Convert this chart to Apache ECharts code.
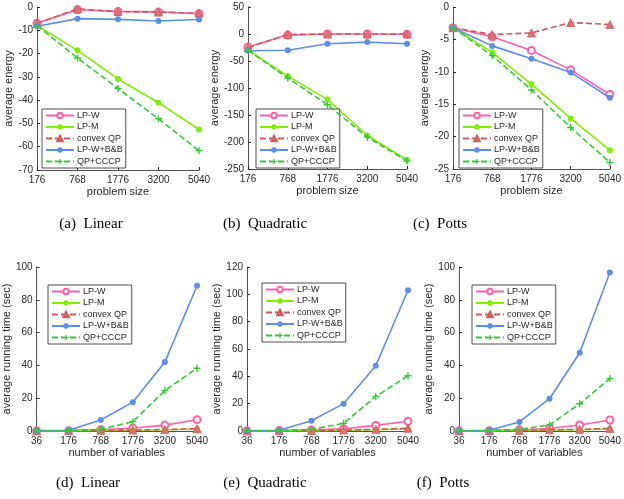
<!DOCTYPE html>
<html><head><meta charset="utf-8">
<script src="https://cdn.jsdelivr.net/npm/echarts@6/dist/echarts.min.js"></script>
<style>html,body{margin:0;padding:0;background:#fff}#c{width:624px;height:499px}</style>
</head><body><div id="c"></div>
<script>
const seriesNames = ['LP-W','LP-M','convex QP','LP-W+B&B','QP+CCCP'];
const sizeCats = ['176','768','1776','3200','5040'];
const varCats = ['36','176','768','1776','3200','5040'];

// (a) Linear - energy
const linE_LPW  = [-7, -1.2, -1.9, -2.1, -2.9];
const linE_LPM  = [-7.9, -18.6, -30.9, -41.1, -52.6];
const linE_CQP  = [-7, -0.8, -2.0, -2.2, -2.6];
const linE_BB   = [-8.3, -5.0, -5.3, -6.0, -5.4];
const linE_CCCP = [-8, -21.9, -35, -48, -61.7];
// (b) Quadratic - energy
const quaE_LPW  = [-24, -2, 0, 0, -0.5];
const quaE_LPM  = [-30, -78, -121, -188, -233];
const quaE_CQP  = [-25, -1, 0, 0, 0];
const quaE_BB   = [-31, -30, -18, -15, -18];
const quaE_CCCP = [-30, -81.5, -131, -191, -235];
// (c) Potts - energy
const potE_LPW  = [-3.2, -4.6, -6.7, -9.7, -13.5];
const potE_LPM  = [-3.2, -7.0, -11.9, -17.2, -22.1];
const potE_CQP  = [-3.2, -4.25, -4.0, -2.4, -2.7];
const potE_BB   = [-3.2, -6.0, -8.0, -10.1, -14.0];
const potE_CCCP = [-3.2, -7.5, -12.8, -18.6, -24.0];
// (d) Linear - time
const linT_LPW  = [0.1, 0.2, 0.8, 1.8, 3.6, 6.9];
const linT_LPM  = [0.05, 0.1, 0.3, 0.5, 0.8, 1.2];
const linT_CQP  = [0.1, 0.2, 0.4, 0.6, 0.9, 1.4];
const linT_BB   = [0.2, 0.5, 6.7, 17.6, 42, 88.6];
const linT_CCCP = [0, 0.2, 1.0, 5.7, 24.7, 38.3];
// (e) Quadratic - time
const quaT_LPW  = [0.1, 0.3, 0.8, 1.7, 4.1, 7.1];
const quaT_LPM  = [0.05, 0.1, 0.3, 0.5, 0.9, 1.5];
const quaT_CQP  = [0.1, 0.2, 0.4, 0.7, 1.2, 2.0];
const quaT_BB   = [0.1, 0.5, 7.5, 20, 47.7, 103];
const quaT_CCCP = [0, 0.2, 1.2, 5.6, 25.3, 40.4];
// (f) Potts - time
const potT_LPW  = [0.1, 0.2, 0.7, 1.5, 3.7, 6.7];
const potT_LPM  = [0.05, 0.1, 0.3, 0.5, 0.8, 1.2];
const potT_CQP  = [0.1, 0.2, 0.4, 0.7, 1.0, 1.6];
const potT_BB   = [0.1, 0.4, 5.5, 19.7, 47.7, 96.6];
const potT_CCCP = [0, 0.2, 1.0, 3.7, 16.6, 32.0];

const captions = ['(a)  Linear','(b)  Quadratic','(c)  Potts','(d)  Linear','(e)  Quadratic','(f)  Potts'];

const panels = [
  {cats: sizeCats, data:[linE_LPW,linE_LPM,linE_CQP,linE_BB,linE_CCCP], min:-70, max:0, interval:10, xname:'problem size', yname:'average energy',
   grid:{left:37, top:7, width:162, height:163}, nameGap:18, legend:{left:42, top:109}, cap:[91,224]},
  {cats: sizeCats, data:[quaE_LPW,quaE_LPM,quaE_CQP,quaE_BB,quaE_CCCP], min:-250, max:50, interval:50, xname:'problem size', yname:'average energy',
   grid:{left:248, top:7, width:159, height:162}, nameGap:22, legend:{left:256, top:109}, cap:[265,224]},
  {cats: sizeCats, data:[potE_LPW,potE_LPM,potE_CQP,potE_BB,potE_CCCP], min:-25, max:0, interval:5, xname:'problem size', yname:'average energy',
   grid:{left:453, top:7, width:161, height:162}, nameGap:22, legend:{left:459, top:109}, cap:[440,224]},
  {cats: varCats, data:[linT_LPW,linT_LPM,linT_CQP,linT_BB,linT_CCCP], min:0, max:100, interval:20, xname:'number of variables', yname:'average running time (sec)',
   grid:{left:36, top:267, width:161, height:164}, nameGap:22, legend:{left:48, top:285}, cap:[88,483]},
  {cats: varCats, data:[quaT_LPW,quaT_LPM,quaT_CQP,quaT_BB,quaT_CCCP], min:0, max:120, interval:20, xname:'number of variables', yname:'average running time (sec)',
   grid:{left:247, top:267, width:161, height:164}, nameGap:21, legend:{left:262, top:283}, cap:[265,483]},
  {cats: varCats, data:[potT_LPW,potT_LPM,potT_CQP,potT_BB,potT_CCCP], min:0, max:100, interval:20, xname:'number of variables', yname:'average running time (sec)',
   grid:{left:459, top:267, width:161, height:164}, nameGap:21, legend:{left:472, top:285}, cap:[443,483]}
];

const plusPath = 'path://M4 0 L6 0 L6 4 L10 4 L10 6 L6 6 L6 10 L4 10 L4 6 L0 6 L0 4 L4 4 Z';
const styles = [
  {color:'#ff5fa8', symbol:'emptyCircle', symbolSize:7, type:'solid', fill:'#ff5fa8'},
  {color:'#7ff000', symbol:'circle', symbolSize:6, type:'solid', fill:'#7ff000'},
  {color:'#d05a5a', symbol:'triangle', symbolSize:8, type:'dashed', fill:'#e07070'},
  {color:'#5b8ee8', symbol:'circle', symbolSize:6, type:'solid', fill:'#5b8ee8'},
  {color:'#33cc33', symbol:plusPath, symbolSize:7, type:'dashed', fill:'#33cc33'}
];

const txt = '#262626';
const option = {animation:false, backgroundColor:'#fff', grid:[], xAxis:[], yAxis:[], series:[], legend:[]};
panels.forEach((p, i) => {
  option.grid.push(Object.assign({containLabel:false}, p.grid));
  option.xAxis.push({type:'category', gridIndex:i, data:p.cats, boundaryGap:false,
    name:p.xname, nameLocation:'middle', nameGap:16, nameTextStyle:{fontFamily:'Liberation Sans', fontSize:11, color:txt},
    axisLine:{onZero:false, lineStyle:{color:txt, width:0.8}}, axisTick:{inside:true, length:3, lineStyle:{color:txt}},
    axisLabel:{fontFamily:'Liberation Sans', fontSize:10, color:txt, margin:5, interval:0}, splitLine:{show:false}});
  option.yAxis.push({type:'value', gridIndex:i, min:p.min, max:p.max, interval:p.interval,
    name:p.yname, nameLocation:'middle', nameGap:p.nameGap, nameTextStyle:{fontFamily:'Liberation Sans', fontSize:11, color:txt},
    axisLine:{show:true, onZero:false, lineStyle:{color:txt, width:0.8}}, axisTick:{show:true, inside:true, length:3, lineStyle:{color:txt}},
    axisLabel:{fontFamily:'Liberation Sans', fontSize:10, color:txt, margin:4}, splitLine:{show:false}});
  seriesNames.forEach((n, k) => {
    const s = styles[k];
    const ist = {color:s.fill};
    if (k === 0) { ist.borderColor = s.color; ist.borderWidth = 1.5; }
    else if (k === 2) { ist.borderColor = s.color; ist.borderWidth = 0.8; }
    option.series.push({type:'line', name:n, xAxisIndex:i, yAxisIndex:i, data:p.data[k],
      symbol:s.symbol, symbolSize:s.symbolSize, showAllSymbol:true,
      lineStyle:{color:s.color, width:1.6, type: s.type==='dashed' ? [6,3] : 'solid'},
      itemStyle:ist, z: 2 + k});
  });
  option.legend.push({left:p.legend.left, top:p.legend.top, orient:'vertical', data:seriesNames,
    itemWidth:28, itemHeight:7, itemGap:2.5, padding:[2,3,2,3], backgroundColor:'#fff',
    borderColor:'#222', borderWidth:0.8, selectedMode:false,
    textStyle:{fontFamily:'Liberation Sans', fontSize:9, color:txt, padding:[0,0,0,-2]}});
});
option.graphic = panels.map((p,i)=>({type:'text', x:p.cap[0], y:p.cap[1], style:{text:captions[i], font:'15px "Liberation Serif"', fill:'#000', align:'center', verticalAlign:'middle'}}));

const chart = echarts.init(document.getElementById('c'), null, {renderer:'canvas'});
chart.setOption(option);
</script></body></html>
